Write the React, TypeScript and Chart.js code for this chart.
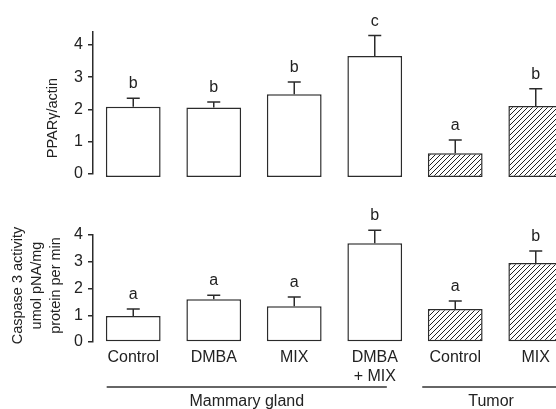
import React, { useEffect, useRef } from 'react';
import { Chart, registerables } from 'chart.js';

Chart.register(...registerables);

// ---- data ----
const categories: string[][] = [['Control'], ['DMBA'], ['MIX'], ['DMBA', '+ MIX'], ['Control'], ['MIX']];
const tissues = ['Mammary gland', 'Mammary gland', 'Mammary gland', 'Mammary gland', 'Tumor', 'Tumor'];
const groupLabels = ['Mammary gland', 'Tumor'];

const pparValues = [2.08, 2.06, 2.47, 3.66, 0.64, 2.11];
const pparErrors = [0.27, 0.17, 0.38, 0.63, 0.41, 0.53];
const pparLetters = ['b', 'b', 'b', 'c', 'a', 'b'];

const caspValues = [0.97, 1.6, 1.34, 3.69, 1.23, 2.95];
const caspErrors = [0.26, 0.15, 0.34, 0.49, 0.3, 0.45];
const caspLetters = ['a', 'a', 'a', 'b', 'a', 'b'];

const pparTitle = ['PPARγ/actin'];
const caspTitle = ['Caspase 3 activity', 'umol pNA/mg', 'protein per min'];

const INK = '#2b2b2b';
const FONT = '"Liberation Sans", Arial, Helvetica, sans-serif';

function makeHatch(): CanvasPattern | string {
  const s = 5;
  const c = document.createElement('canvas');
  c.width = s;
  c.height = s;
  const g = c.getContext('2d');
  if (!g) return '#fff';
  g.fillStyle = '#fff';
  g.fillRect(0, 0, s, s);
  g.strokeStyle = '#222';
  g.lineWidth = 1;
  g.beginPath();
  g.moveTo(0, s);
  g.lineTo(s, 0);
  g.moveTo(-1, 1);
  g.lineTo(1, -1);
  g.moveTo(s - 1, s + 1);
  g.lineTo(s + 1, s - 1);
  g.stroke();
  const p = g.createPattern(c, 'repeat');
  return p || '#fff';
}

const errorBarsPlugin = {
  id: 'errbars',
  afterDatasetsDraw(chart: any, _args: any, opts: any) {
    const { ctx } = chart;
    const meta = chart.getDatasetMeta(0);
    const yScale = chart.scales.y;
    const values: number[] = chart.data.datasets[0].data;
    ctx.save();
    ctx.strokeStyle = INK;
    ctx.lineWidth = 1.5;
    ctx.fillStyle = '#222';
    ctx.font = `16px ${FONT}`;
    ctx.textAlign = 'center';
    ctx.textBaseline = 'alphabetic';
    meta.data.forEach((bar: any, i: number) => {
      const x = bar.x;
      const y0 = yScale.getPixelForValue(values[i]);
      const y1 = yScale.getPixelForValue(values[i] + opts.errors[i]);
      ctx.beginPath();
      ctx.moveTo(x, y0);
      ctx.lineTo(x, y1);
      ctx.moveTo(x - 6.5, y1);
      ctx.lineTo(x + 6.5, y1);
      ctx.stroke();
      ctx.fillText(opts.letters[i], x, y1 - 10);
    });
    ctx.restore();
  },
};

const yTitlePlugin = {
  id: 'ytitle',
  afterDraw(chart: any, _args: any, opts: any) {
    const { ctx, chartArea } = chart;
    const cy = (chartArea.top + chartArea.bottom) / 2 + opts.dy;
    ctx.save();
    ctx.fillStyle = '#222';
    ctx.font = `14.5px ${FONT}`;
    ctx.textAlign = 'center';
    ctx.textBaseline = 'middle';
    opts.lines.forEach((line: string, i: number) => {
      ctx.save();
      ctx.translate(chartArea.left + opts.dx + i * 19, cy);
      ctx.rotate(-Math.PI / 2);
      ctx.fillText(line, 0, 0);
      ctx.restore();
    });
    ctx.restore();
  },
};

const groupPlugin = {
  id: 'groups',
  afterDraw(chart: any) {
    const { ctx, chartArea } = chart;
    const x = chart.scales.x;
    const cw = x.width / categories.length;
    const spans: Record<string, [number, number]> = {
      'Mammary gland': [-0.33, 0.15],
      Tumor: [-0.41, 0.3],
    };
    ctx.save();
    ctx.strokeStyle = '#333';
    ctx.lineWidth = 1.5;
    ctx.fillStyle = '#222';
    ctx.font = `16px ${FONT}`;
    ctx.textAlign = 'center';
    ctx.textBaseline = 'middle';
    groupLabels.forEach((g) => {
      const idx = tissues.map((t, i) => (t === g ? i : -1)).filter((i) => i >= 0);
      const a = x.getPixelForValue(idx[0]) + spans[g][0] * cw;
      const b = x.getPixelForValue(idx[idx.length - 1]) + spans[g][1] * cw;
      const ly = chartArea.bottom + 45;
      ctx.beginPath();
      ctx.moveTo(a, ly);
      ctx.lineTo(b, ly);
      ctx.stroke();
      ctx.fillText(g, (a + b) / 2, chartArea.bottom + 60);
    });
    ctx.restore();
  },
};

function yAxis(max: number) {
  return {
    min: 0,
    max,
    afterFit: (s: any) => {
      s.width = 93;
    },
    border: { display: true, color: INK, width: 1.5 },
    grid: { drawOnChartArea: false, drawTicks: true, tickLength: 5, color: INK, lineWidth: 1.5 },
    ticks: {
      stepSize: 1,
      includeBounds: false,
      padding: 5,
      color: '#222',
      font: { family: FONT, size: 16 },
    },
  };
}

export default function App() {
  const topRef = useRef<HTMLCanvasElement>(null);
  const botRef = useRef<HTMLCanvasElement>(null);

  useEffect(() => {
    const hatch = makeHatch();
    const fills = tissues.map((t) => (t === 'Tumor' ? hatch : '#ffffff'));

    const top = new Chart(topRef.current as HTMLCanvasElement, {
      type: 'bar',
      data: {
        labels: categories,
        datasets: [
          {
            data: pparValues,
            backgroundColor: fills as any,
            borderColor: INK,
            borderWidth: 1.5,
            borderSkipped: false,
            base: -0.09,
            clip: false as any,
            categoryPercentage: 1,
            barPercentage: 0.68,
          } as any,
        ],
      },
      options: {
        animation: false,
        responsive: false,
        events: [],
        layout: { padding: { top: 32, bottom: 16, left: 0, right: 24 } },
        plugins: {
          legend: { display: false },
          tooltip: { enabled: false },
          errbars: { errors: pparErrors, letters: pparLetters },
          ytitle: { lines: pparTitle, dx: -40, dy: 15 },
        } as any,
        scales: {
          x: { display: false, grid: { display: false } },
          y: yAxis(4.4) as any,
        },
      },
      plugins: [errorBarsPlugin, yTitlePlugin],
    });

    const bot = new Chart(botRef.current as HTMLCanvasElement, {
      type: 'bar',
      data: {
        labels: categories,
        datasets: [
          {
            data: caspValues,
            backgroundColor: fills as any,
            borderColor: INK,
            borderWidth: 1.5,
            borderSkipped: false,
            categoryPercentage: 1,
            barPercentage: 0.68,
          } as any,
        ],
      },
      options: {
        animation: false,
        responsive: false,
        events: [],
        layout: { padding: { top: 45, bottom: 0, left: 0, right: 24 } },
        plugins: {
          legend: { display: false },
          tooltip: { enabled: false },
          errbars: { errors: caspErrors, letters: caspLetters },
          ytitle: { lines: caspTitle, dx: -75, dy: -3 },
        } as any,
        scales: {
          x: {
            afterFit: (s: any) => {
              s.height = 67;
            },
            border: { display: false },
            grid: { display: false, drawTicks: false },
            ticks: {
              padding: 6,
              color: '#222',
              maxRotation: 0,
              autoSkip: false,
              font: { family: FONT, size: 16, lineHeight: 1.2 },
            },
          },
          y: yAxis(4) as any,
        },
      },
      plugins: [errorBarsPlugin, yTitlePlugin, groupPlugin],
    });

    return () => {
      top.destroy();
      bot.destroy();
    };
  }, []);

  return (
    <div
      style={{
        position: 'fixed',
        left: 0,
        top: 0,
        width: 556,
        height: 409,
        overflow: 'hidden',
        background: '#fff',
      }}
    >
      <canvas
        ref={topRef}
        width={600}
        height={190}
        style={{ position: 'absolute', left: 0, top: 0, width: 600, height: 190 }}
      />
      <canvas
        ref={botRef}
        width={600}
        height={219}
        style={{ position: 'absolute', left: 0, top: 190, width: 600, height: 219 }}
      />
    </div>
  );
}
